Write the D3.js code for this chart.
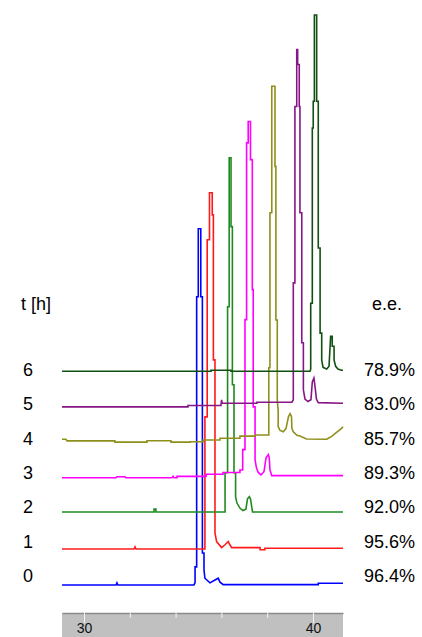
<!DOCTYPE html>
<html><head><meta charset="utf-8">
<script src="https://cdn.jsdelivr.net/npm/d3@7/dist/d3.min.js"></script>
<style>body{margin:0;background:#fff}svg{display:block}</style>
</head><body>
<svg id="c" width="422" height="637"></svg>
<script>
// ---- data ----
const hours = ["0","1","2","3","4","5","6"];
const eeLabels = ["96.4%","95.6%","92.0%","89.3%","85.7%","83.0%","78.9%"];
// vertical offset of each trace (same units as intensity, main peak = 100)
const offsets = [0, 10.1, 20.5, 30.1, 40, 50, 60];
const axisTicks = [30, 32, 34, 36, 38, 40];
const axisLabels = [30, 40];

// [retention time (min), relative intensity]
const trace0 = [[29.04,0],[31.40,0],[31.44,0.6],[31.48,0],[34.80,0],[34.85,0.6],[34.85,5.1],[34.92,5.1],[34.92,80.9],[34.99,80.9],[34.99,100],[35.10,100],[35.10,80.9],[35.17,80.9],[35.17,9.0],[35.24,9.0],[35.24,4.2],[35.28,1.9],[35.50,0.6],[35.72,1.4],[35.86,1.9],[35.94,0.8],[36.08,0.1],[40.23,0.1],[40.23,0.5],[41.31,0.5]];
const trace1 = [[29.04,0],[32.18,0],[32.23,0.6],[32.27,0],[35.28,0],[35.28,37.1],[35.38,37.1],[35.38,86.8],[35.48,86.8],[35.48,100],[35.60,100],[35.60,93.8],[35.65,93.8],[35.65,53.1],[35.72,53.1],[35.72,4.5],[35.79,2.1],[36.01,0.4],[36.16,1.2],[36.30,2.1],[36.37,1.2],[36.45,0.4],[37.69,0.4],[37.69,-0.2],[37.90,-0.2],[37.90,0.2],[41.31,0.2]];
const trace2 = [[29.04,0],[33.06,0],[33.06,0.8],[33.14,0.8],[33.14,0],[36.16,0],[36.16,11.0],[36.27,11.0],[36.27,57.6],[36.34,57.6],[36.34,99.4],[36.42,99.4],[36.42,80.1],[36.48,80.1],[36.48,35.7],[36.55,35.7],[36.55,11.0],[36.62,11.0],[36.62,4.2],[36.68,2.5],[36.81,1.1],[36.94,0.4],[37.07,0.8],[37.14,3.7],[37.22,4.3],[37.27,3.7],[37.36,0],[41.31,0]];
const trace3 = [[29.04,0],[31.40,0],[31.44,0.3],[31.79,0.3],[31.83,0],[33.84,0],[33.89,0.4],[33.93,0],[34.06,0],[34.06,0.4],[35.33,0.4],[35.33,1.0],[36.07,1.0],[36.07,1.5],[36.81,1.5],[36.81,2.2],[36.93,2.2],[36.93,7.9],[37.03,7.9],[37.03,44.4],[37.10,44.4],[37.10,94.0],[37.17,94.0],[37.17,100],[37.27,100],[37.27,89.3],[37.35,89.3],[37.35,52.8],[37.39,52.8],[37.39,19.9],[37.47,19.9],[37.47,5.1],[37.53,2.8],[37.61,1.5],[37.73,0.8],[37.86,1.7],[37.95,5.6],[38.05,6.5],[38.09,5.6],[38.12,2.2],[38.20,0.6],[41.31,0.6]];
const trace4 = [[29.04,0.9],[29.21,0.9],[29.26,0.45],[31.35,0.45],[31.35,0.1],[32.75,0.1],[32.75,0.5],[33.80,0.5],[33.80,0.1],[34.63,0.1],[34.63,0.2],[35.20,0.2],[35.20,0.7],[35.94,0.7],[35.94,1.2],[36.81,1.2],[36.81,1.8],[37.47,1.8],[37.47,2.1],[38.07,2.1],[38.07,21.0],[38.12,21.0],[38.12,64.5],[38.20,64.5],[38.20,100],[38.34,100],[38.34,77.5],[38.38,77.5],[38.38,34.4],[38.44,34.4],[38.44,11.8],[38.48,9.0],[38.48,4.5],[38.56,3.4],[38.70,3.0],[38.82,3.9],[38.93,7.3],[39.00,8.1],[39.06,7.3],[39.08,3.9],[39.14,3.0],[39.30,2.0],[39.43,1.8],[39.72,1.0],[40.60,0.9],[40.83,1.8],[41.00,2.7],[41.18,3.6],[41.31,4.4]];
const trace5 = [[29.04,0],[34.54,0],[34.54,0.4],[35.98,0.4],[36.01,2.0],[36.03,1.0],[37.55,1.0],[37.55,1.3],[39.08,1.3],[39.14,2.0],[39.14,34.8],[39.21,34.8],[39.21,84.3],[39.29,84.3],[39.29,100.3],[39.33,100.3],[39.33,96.1],[39.40,96.1],[39.40,84.3],[39.43,84.3],[39.43,54.5],[39.51,54.5],[39.51,18.0],[39.58,18.0],[39.58,4.8],[39.65,2.2],[39.78,1.5],[39.91,2.0],[39.97,7.0],[40.04,8.1],[40.09,5.6],[40.15,2.2],[40.23,1.2],[41.31,1.0]];
const trace6 = [[29.04,0],[35.55,0],[35.55,0.3],[36.42,0.3],[36.42,0],[39.87,0],[39.90,0.6],[39.90,19.1],[39.97,19.1],[39.97,68.3],[40.01,68.3],[40.01,75.8],[40.06,75.8],[40.06,100],[40.16,100],[40.16,75.8],[40.23,75.8],[40.23,34.6],[40.31,34.6],[40.31,10.7],[40.38,10.7],[40.38,3.1],[40.44,1.1],[40.60,0.6],[40.70,1.4],[40.77,9.8],[40.84,9.8],[40.84,7.0],[40.92,7.0],[40.92,3.1],[40.99,1.4],[41.09,0.6],[41.25,0.3],[41.31,0.3]];

const traces = [trace0, trace1, trace2, trace3, trace4, trace5, trace6];
const colors = ["#0000ff", "#ff1a1a", "#1f8a1f", "#ff00ff", "#8f8f1c", "#861586", "#125012"];

// ---- drawing ----
const svg = d3.select("#c");
const font = "'Liberation Sans', Arial, sans-serif";
const x = d3.scaleLinear().domain([29.04, 41.31]).range([62, 343]);
const y = d3.scaleLinear().domain([0, 160]).range([585, 15]);
const labelRow = d3.scaleLinear().domain([0, 6]).range([582, 376]);

const line = d3.line().x(d => x(d[0])).y(d => y(d[1]));

traces.forEach((tr, i) => {
  svg.append("path")
    .datum(tr.map(p => [p[0], p[1] + offsets[i]]))
    .attr("d", line)
    .attr("fill", "none")
    .attr("stroke", colors[i])
    .attr("stroke-width", 1.6)
    .attr("stroke-linejoin", "miter");
});

// left labels
svg.append("text").attr("x", 36).attr("y", 310).attr("text-anchor", "middle")
  .attr("font-family", font).attr("font-size", 18).text("t [h]");
svg.selectAll("text.h").data(hours).join("text").attr("class", "h")
  .attr("x", 28).attr("y", (d, i) => labelRow(i)).attr("text-anchor", "middle")
  .attr("font-family", font).attr("font-size", 18).text(d => d);

// right labels
svg.append("text").attr("x", 387).attr("y", 310).attr("text-anchor", "middle")
  .attr("font-family", font).attr("font-size", 18).text("e.e.");
svg.selectAll("text.ee").data(eeLabels).join("text").attr("class", "ee")
  .attr("x", 364).attr("y", (d, i) => labelRow(i)).attr("text-anchor", "start")
  .attr("font-family", font).attr("font-size", 18).text(d => d);

// x axis bar
const axisTop = 613;
svg.append("rect").attr("x", x.range()[0]).attr("y", axisTop)
  .attr("width", x.range()[1] - x.range()[0]).attr("height", 637 - axisTop)
  .attr("fill", "#c0c0c0");
const ax = svg.append("g").attr("transform", `translate(0,${axisTop})`)
  .call(d3.axisBottom(x).tickValues(axisTicks).tickSizeInner(5).tickSizeOuter(0)
    .tickPadding(5).tickFormat(d => axisLabels.includes(d) ? d : ""));
ax.select(".domain").attr("stroke", "#8a8a8a").attr("stroke-width", 1.5);
ax.selectAll(".tick line").attr("stroke", "#f4f4f4").attr("stroke-width", 1)
  .attr("y2", d => axisLabels.includes(d) ? 10 : 5);
ax.selectAll(".tick text").attr("font-family", font).attr("font-size", 14).attr("fill", "#111");
</script>
</body></html>
